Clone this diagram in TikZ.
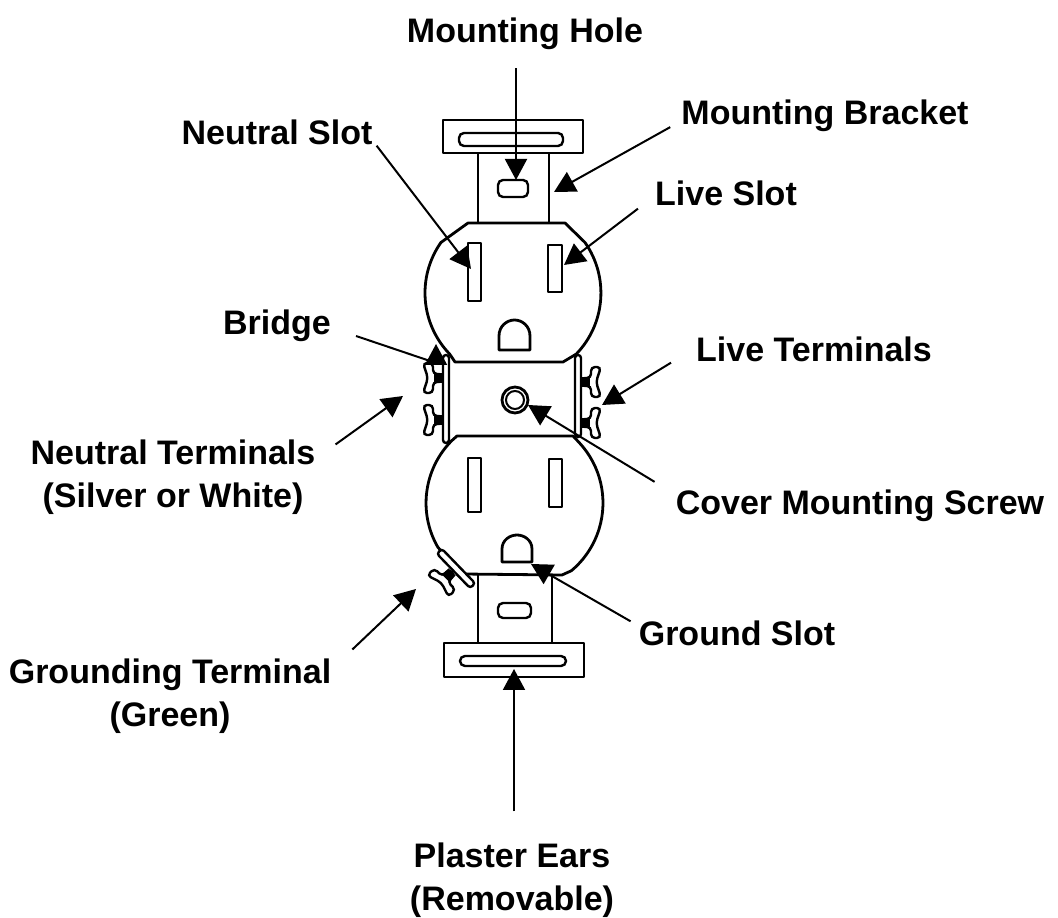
\documentclass[tikz,border=0pt]{standalone}
\usepackage{fontspec}
\setmainfont{Liberation Sans}
\usetikzlibrary{arrows.meta}

\begin{document}
\begin{tikzpicture}[
        x=1pt, y=1pt,
        part/.style={line width=2.8pt, fill=white, line join=round},
        thinpart/.style={line width=2.4pt, fill=white, rounded corners=5pt},
        label/.style={font=\fontsize{34}{43}\selectfont\bfseries, align=center, inner sep=1pt},
        callout/.style={-{Triangle[length=21pt, width=22pt]}, line width=2pt, black},
        screwterm/.pic={
            \draw[line width=2.4pt, fill=white, rounded corners=4pt] (0,-4) -- (10,-4) -- (10,-15) -- (20,-15) -- (15,0) -- (20,15) -- (10,15) -- (10,4) -- (0,4) -- cycle;
            \fill (0,-5) rectangle (9,5);
        }
    ]
        \useasboundingbox (0,0) rectangle (1058,918);

        % Mounting bracket
        \draw[part] (443,798) rectangle (583,765);
        \draw[thinpart] (459,785) rectangle (563,772);
        \draw[part] (478,765) -- (478,694);
        \draw[part] (549,765) -- (549,694);
        \draw[thinpart] (498,738) rectangle (528,721);

        % Plaster ear at the bottom
        \draw[part] (478,346) -- (478,275);
        \draw[part] (552,346) -- (552,275);
        \draw[part] (444,275) rectangle (584,241);
        \draw[thinpart] (460,262) rectangle (566,252);
        \draw[thinpart] (498,315) rectangle (531,300);

        % Terminals
        \pic at (581,536) {screwterm};
        \pic at (581,495) {screwterm};
        \pic[xscale=-1] at (443,540) {screwterm};
        \pic[xscale=-1] at (443,498) {screwterm};

        % Side strips
        \draw[thinpart, rounded corners=3pt] (443,563) rectangle (449,475);
        \draw[thinpart, rounded corners=3pt] (575,563) rectangle (581,481);

        % Faces of the receptacle
        \draw[part] (468,695) -- (565,695) -- (585,675.5) arc[start angle=35, end angle=-44, radius=88] -- (563,556) -- (455,556) -- (449.7,563.9) arc[start angle=224, end angle=145, radius=88] -- cycle;
        \draw[part] (457,482) -- (573,482) -- (579.2,475.4) arc[start angle=43, end angle=-50, radius=88.5] -- (562,343) -- (462,344) -- (437.9,370.7) arc[start angle=210, end angle=135, radius=88.5] -- cycle;

        % Grounding terminal
        \pic[rotate=225] at (452,346) {screwterm};
        \draw[thinpart, rounded corners=3pt, rotate around={-46:(456,349.5)}] (432,346) rectangle (480,353);

        % Slots
        \draw[part] (468,675) rectangle (481,617);
        \draw[part] (548,673) rectangle (562,626);
        \draw[part] (499,568) -- (499,582) .. controls (499,592) and (507,598) .. (514.5,598) .. controls (522,598) and (530,592) .. (530,582) -- (530,568) -- cycle;
        \draw[part] (468,460) rectangle (481,406);
        \draw[part] (549,459) rectangle (562,411);
        \draw[part] (502,356) -- (502,369) .. controls (502,378) and (510,383) .. (517,383) .. controls (524,383) and (532,378) .. (532,369) -- (532,356) -- cycle;

        % Cover screw
        \draw[part] (515,518) circle (13);
        \draw[line width=2pt] (515,518) circle (9);

        % Labels
        \node[label] (holeLabel) at (525,884) {Mounting Hole};
        \node[label] (bracketLabel) at (825,802) {Mounting Bracket};
        \node[label] (neutralSlotLabel) at (277,786) {Neutral Slot};
        \node[label] (liveSlotLabel) at (726,725) {Live Slot};
        \node[label] (bridgeLabel) at (277,592) {Bridge};
        \node[label] (liveTermLabel) at (814,569) {Live Terminals};
        \node[label] (neutralTermLabel) at (173,441) {Neutral Terminals\\(Silver or White)};
        \node[label] (screwLabel) at (860,412) {Cover Mounting Screw};
        \node[label] (groundSlotLabel) at (737,285) {Ground Slot};
        \node[label] (groundTermLabel) at (170,222) {Grounding Terminal\\(Green)};
        \node[label] (earsLabel) at (512,38) {Plaster Ears\\(Removable)};

        % Arrow tips
        \coordinate (holeTip) at (516,738);
        \coordinate (bracketTip) at (554,726);
        \coordinate (neutralSlotTip) at (471,649);
        \coordinate (liveSlotTip) at (564,653);
        \coordinate (bridgeBend) at (436,555);
        \coordinate (bridgeTip) at (436,574);
        \coordinate (liveTermTip) at (602,513);
        \coordinate (neutralTermTip) at (403,522);
        \coordinate (screwTip) at (528,513);
        \coordinate (groundSlotTip) at (531,354);
        \coordinate (groundTermTip) at (416,329);
        \coordinate (earsTip) at (514,249);

        % Callouts
        \draw[callout] ([xshift=-9pt, yshift=-17pt]holeLabel.south) -- (holeTip);
        \draw[callout] ([xshift=-10pt, yshift=6pt]bracketLabel.south west) -- (bracketTip);
        \draw[callout] ([xshift=3pt]neutralSlotLabel.south east) -- (neutralSlotTip);
        \draw[callout] ([xshift=-16pt, yshift=-2pt]liveSlotLabel.south west) -- (liveSlotTip);
        \draw[callout] ([xshift=24pt, yshift=-10pt]bridgeLabel.east) -- (bridgeBend) -- (bridgeTip);
        \draw[callout] ([xshift=-24pt]liveTermLabel.south west) -- (liveTermTip);
        \draw[callout] ([xshift=19pt, yshift=-6pt]neutralTermLabel.north east) -- (neutralTermTip);
        \draw[callout] ([xshift=-20pt, yshift=7pt]screwLabel.north west) -- (screwTip);
        \draw[callout] ([xshift=-7pt, yshift=-2pt]groundSlotLabel.north west) -- (groundSlotTip);
        \draw[callout] ([xshift=20pt, yshift=8pt]groundTermLabel.north east) -- (groundTermTip);
        \draw[callout] ([xshift=2pt, yshift=30pt]earsLabel.north) -- (earsTip);

    \end{tikzpicture}
\end{document}
